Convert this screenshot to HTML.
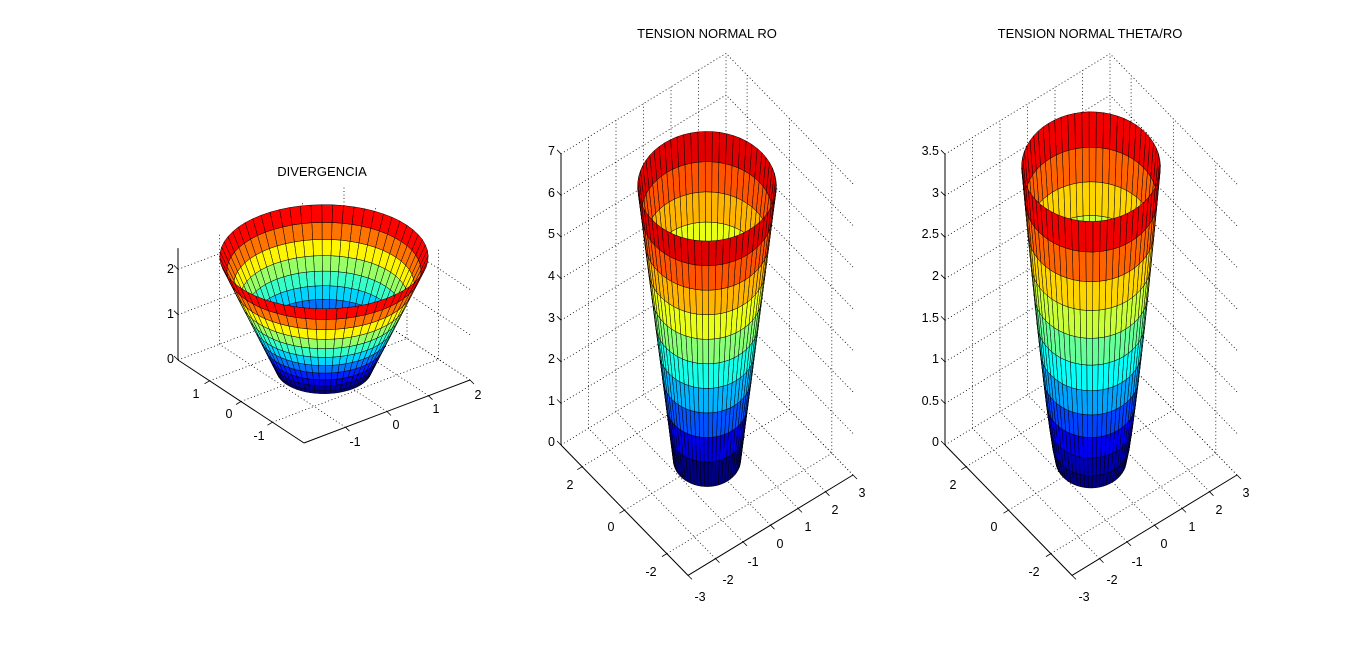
<!DOCTYPE html>
<html><head><meta charset="utf-8"><style>
html,body{margin:0;padding:0;background:#fff;}
svg{display:block;}
text{font-family:"Liberation Sans",Arial,sans-serif;font-size:12.5px;fill:#000;}
.t{font-size:13px;}
</style></head><body>
<svg id="s" width="1367" height="651" viewBox="0 0 1367 651" xmlns="http://www.w3.org/2000/svg">
<rect width="1367" height="651" fill="#fff"/>
<g id="g"></g>
<g>
<text class="t" x="322" y="176" text-anchor="middle">DIVERGENCIA</text>
<text class="t" x="707" y="38" text-anchor="middle">TENSION NORMAL RO</text>
<text class="t" x="1090" y="38" text-anchor="middle">TENSION NORMAL THETA/RO</text>

<text x="174" y="363" text-anchor="end">0</text>
<text x="174" y="318" text-anchor="end">1</text>
<text x="174" y="273" text-anchor="end">2</text>
<text x="196" y="398" text-anchor="middle">1</text>
<text x="229" y="418" text-anchor="middle">0</text>
<text x="259" y="440" text-anchor="middle">-1</text>
<text x="355" y="446" text-anchor="middle">-1</text>
<text x="396" y="429" text-anchor="middle">0</text>
<text x="436" y="413" text-anchor="middle">1</text>
<text x="478" y="399" text-anchor="middle">2</text>

<text x="555" y="446" text-anchor="end">0</text>
<text x="555" y="405" text-anchor="end">1</text>
<text x="555" y="363" text-anchor="end">2</text>
<text x="555" y="322" text-anchor="end">3</text>
<text x="555" y="280" text-anchor="end">4</text>
<text x="555" y="238" text-anchor="end">5</text>
<text x="555" y="197" text-anchor="end">6</text>
<text x="555" y="155" text-anchor="end">7</text>
<text x="570" y="489" text-anchor="middle">2</text>
<text x="611" y="531" text-anchor="middle">0</text>
<text x="651" y="576" text-anchor="middle">-2</text>
<text x="700" y="601" text-anchor="middle">-3</text>
<text x="728" y="584" text-anchor="middle">-2</text>
<text x="753" y="566" text-anchor="middle">-1</text>
<text x="780" y="548" text-anchor="middle">0</text>
<text x="808" y="531" text-anchor="middle">1</text>
<text x="835" y="514" text-anchor="middle">2</text>
<text x="862" y="497" text-anchor="middle">3</text>

<text x="939" y="446" text-anchor="end">0</text>
<text x="939" y="405" text-anchor="end">0.5</text>
<text x="939" y="363" text-anchor="end">1</text>
<text x="939" y="322" text-anchor="end">1.5</text>
<text x="939" y="280" text-anchor="end">2</text>
<text x="939" y="238" text-anchor="end">2.5</text>
<text x="939" y="197" text-anchor="end">3</text>
<text x="939" y="155" text-anchor="end">3.5</text>
<text x="953" y="489" text-anchor="middle">2</text>
<text x="994" y="531" text-anchor="middle">0</text>
<text x="1034" y="576" text-anchor="middle">-2</text>
<text x="1084" y="601" text-anchor="middle">-3</text>
<text x="1112" y="584" text-anchor="middle">-2</text>
<text x="1137" y="566" text-anchor="middle">-1</text>
<text x="1164" y="548" text-anchor="middle">0</text>
<text x="1192" y="531" text-anchor="middle">1</text>
<text x="1219" y="514" text-anchor="middle">2</text>
<text x="1246" y="497" text-anchor="middle">3</text>
</g>
</svg>
<script>
(function(){
var D=Math.PI/180;
var P=[
 {ox:324,oy:370,s:52.1,phi:37.2*D,el:30*D,sz:45.3,xr:[-2,2],yr:[-2,2],zr:[0,2.47],xt:[-1,0,1,2],yt:[-1,0,1],zt:[0,1,2],r0:0.91,r1:2.0,zt0:2.5,p:1.4,N:11,cone:1},
 {ox:707,oy:460,s:34.7,phi:37.6*D,el:52.2*D,sz:41.6,xr:[-3,3],yr:[-3,3],zr:[0,7],xt:[-3,-2,-1,0,1,2,3],yt:[-2,0,2],zt:[0,1,2,3,4,5,6,7],r0:0.97,r1:2.0,zt0:6.58,p:1,N:10},
 {ox:1091,oy:460,s:34.7,phi:37.6*D,el:52.2*D,sz:83.1,xr:[-3,3],yr:[-3,3],zr:[0,3.5],xt:[-3,-2,-1,0,1,2,3],yt:[-2,0,2],zt:[0,0.5,1,1.5,2,2.5,3,3.5],r0:1.02,r1:2.0,zt0:3.53,p:1.25,N:11}
];
function pr(Q,x,y,z){var c=Math.cos(Q.phi),sn=Math.sin(Q.phi),t=-(x*sn+y*c);
 return [Q.ox+Q.s*(x*c-y*sn),Q.oy+Q.s*Math.sin(Q.el)*t-Q.sz*z,Q.s*t*Math.cos(Q.el)+Q.sz*z*Math.tan(Q.el)];}
function cl(v){return Math.max(0,Math.min(1,v));}
function jet(v){var i=Math.round(cl(v)*63),t=i/63;
 var r=cl(1.5-Math.abs(4*t-3)),g=cl(1.5-Math.abs(4*t-2)),b=cl(1.5-Math.abs(4*t-1));
 return 'rgb('+Math.round(r*255)+','+Math.round(g*255)+','+Math.round(b*255)+')';}
var out=[];
function ln(Q,a,b,dot,w){var A=pr(Q,a[0],a[1],a[2]),B=pr(Q,b[0],b[1],b[2]);
 out.push('<line x1="'+A[0].toFixed(1)+'" y1="'+A[1].toFixed(1)+'" x2="'+B[0].toFixed(1)+'" y2="'+B[1].toFixed(1)+'" stroke="#000" stroke-width="'+(w||0.8)+'"'+(dot?' stroke-dasharray="1,2.5"':'')+'/>');}
function seg(x1,y1,x2,y2){out.push('<line x1="'+x1.toFixed(1)+'" y1="'+y1.toFixed(1)+'" x2="'+x2.toFixed(1)+'" y2="'+y2.toFixed(1)+'" stroke="#000" stroke-width="0.8"/>');}
P.forEach(function(Q){
 var x0=Q.xr[0],x1=Q.xr[1],y0=Q.yr[0],y1=Q.yr[1],z0=Q.zr[0],z1=Q.zr[1];
 Q.xt.forEach(function(x){ln(Q,[x,y0,z0],[x,y1,z0],1);ln(Q,[x,y1,z0],[x,y1,z1],1);});
 Q.yt.forEach(function(y){ln(Q,[x0,y,z0],[x1,y,z0],1);ln(Q,[x1,y,z0],[x1,y,z1],1);});
 Q.zt.forEach(function(z){ln(Q,[x0,y1,z],[x1,y1,z],1);ln(Q,[x1,y0,z],[x1,y1,z],1);});
 ln(Q,[x0,y1,z0],[x0,y1,z1],0,1);
 ln(Q,[x0,y1,z0],[x0,y0,z0],0,1);
 ln(Q,[x0,y0,z0],[x1,y0,z0],0,1);
 Q.zt.forEach(function(z){var A=pr(Q,x0,y1,z);seg(A[0],A[1],A[0]-4,A[1]-4);});
 Q.yt.forEach(function(y){var A=pr(Q,x0,y,z0);seg(A[0],A[1],A[0]-5,A[1]+3);});
 Q.xt.forEach(function(x){var A=pr(Q,x,y0,z0);seg(A[0],A[1],A[0]+4,A[1]+4);});
 var M=60,N=Q.N,R=[],quads=[];
 for(var k=0;k<=N;k++){var t=k/N,z=Q.zt0*Math.pow(t,Q.p);
  var r=Q.cone?Q.r0+(Q.r1-Q.r0)*(z/Q.zt0):Q.r0+(Q.r1-Q.r0)*t,row=[];
  for(var j=0;j<=M;j++){var a=2*Math.PI*j/M;row.push(pr(Q,r*Math.cos(a),r*Math.sin(a),z));}
  R.push({z:z,pts:row});}
 for(var k=0;k<N;k++)for(var j=0;j<M;j++){
  var a=R[k].pts[j],b=R[k].pts[j+1],c=R[k+1].pts[j+1],d=R[k+1].pts[j];
  quads.push({dp:(a[2]+b[2]+c[2]+d[2])/4,pts:[a,b,c,d],col:jet(R[k].z/Q.zt0)});}
 quads.sort(function(u,v){return u.dp-v.dp;});
 quads.forEach(function(q){out.push('<polygon points="'+q.pts.map(function(p){return p[0].toFixed(1)+','+p[1].toFixed(1);}).join(' ')+'" fill="'+q.col+'" stroke="#000" stroke-width="0.5" stroke-linejoin="round"/>');});
});
document.getElementById('g').innerHTML=out.join('');
})();
</script>
</body></html>
